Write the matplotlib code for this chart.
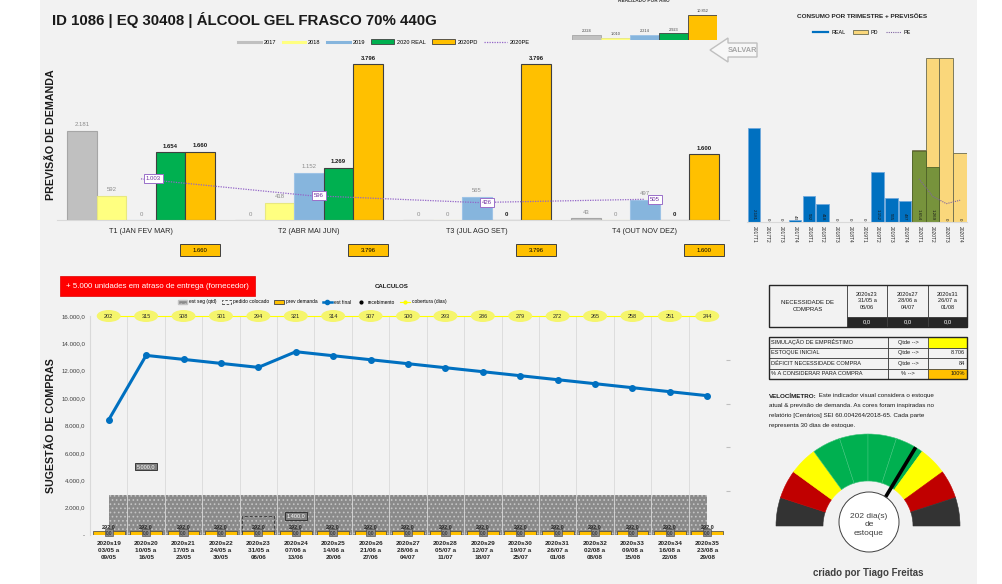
import matplotlib
matplotlib.use("Agg")
import matplotlib.pyplot as plt
from matplotlib.lines import Line2D
from matplotlib.patches import Circle, Ellipse, Patch, Polygon, Rectangle, Wedge
import numpy as np

W, H = 1003, 584
plt.rcParams["font.family"] = ["Liberation Sans Narrow", "Liberation Sans", "DejaVu Sans"]
plt.rcParams["hatch.linewidth"] = 0.7

# previsao de demanda por trimestre
quarters = ["T1 (JAN FEV MAR)", "T2 (ABR MAI JUN)", "T3 (JUL AGO SET)", "T4 (OUT NOV DEZ)"]
series_names = ["2017", "2018", "2019", "2020 REAL", "2020PD"]
dem_2017 = [2181, 0, 0, 43]
dem_2018 = [592, 418, 0, 0]
dem_2019 = [0, 1152, 565, 497]
real_2020 = [1654, 1269, 0, 0]
pd_2020 = [1660, 3796, 3796, 1600]
pe_2020 = [1003, 596, 426, 505]

# realizado por ano
year_totals = [2224, 1010, 2214, 2923, 10852]

# consumo por trimestre + previsoes
quarter_codes = ["2017T1", "2017T2", "2017T3", "2017T4", "2018T1", "2018T2", "2018T3", "2018T4",
                 "2019T1", "2019T2", "2019T3", "2019T4", "2020T1", "2020T2", "2020T3", "2020T4"]
real_by_quarter = [2181, 0, 0, 43, 592, 418, 0, 0, 0, 1152, 565, 497, 1654, 1269, 0, 0]
pd_quarters_2020 = [1660, 3796, 3796, 1600]
pe_quarters_2020 = [1003, 596, 426, 505]

# sugestao de compras por semana
weeks = ["2020s19\n03/05 a\n09/05", "2020s20\n10/05 a\n16/05", "2020s21\n17/05 a\n23/05",
         "2020s22\n24/05 a\n30/05", "2020s23\n31/05 a\n06/06", "2020s24\n07/06 a\n13/06",
         "2020s25\n14/06 a\n20/06", "2020s26\n21/06 a\n27/06", "2020s27\n28/06 a\n04/07",
         "2020s28\n05/07 a\n11/07", "2020s29\n12/07 a\n18/07", "2020s30\n19/07 a\n25/07",
         "2020s31\n26/07 a\n01/08", "2020s32\n02/08 a\n08/08", "2020s33\n09/08 a\n15/08",
         "2020s34\n16/08 a\n22/08", "2020s35\n23/08 a\n29/08"]
est_final = [8414, 13122, 12830, 12538, 12246, 13390, 13098, 12806, 12514, 12222,
             11930, 11638, 11346, 11054, 10762, 10470, 10178]
est_seg = [2920, 2920, 2920, 2920, 2920, 2920, 2920, 2920, 2920, 2920, 2920, 2920, 2920, 2920, 2920, 2920, 2920]
prev_demanda = [292, 292, 292, 292, 292, 292, 292, 292, 292, 292, 292, 292, 292, 292, 292, 292, 292]
pedido = [0, 0, 0, 0, 1400, 0, 0, 0, 0, 0, 0, 0, 0, 0, 0, 0, 0]
recebimento = [0, 5000, 0, 0, 0, 1400, 0, 0, 0, 0, 0, 0, 0, 0, 0, 0, 0]
cobertura = [202, 315, 308, 301, 294, 321, 314, 307, 300, 293, 286, 279, 272, 265, 258, 251, 244]

# tabelas
table_weeks = ["2020s23\n31/05 a\n06/06", "2020s27\n28/06 a\n04/07", "2020s31\n26/07 a\n01/08"]
necessidade = [0.0, 0.0, 0.0]
sim_labels = ["SIMULAÇÃO DE EMPRÉSTIMO", "ESTOQUE INICIAL", "DÉFICIT NECESSIDADE COMPRA", "% A CONSIDERAR PARA COMPRA"]
sim_units = ["Qtde -->", "Qtde -->", "Qtde -->", "% -->"]
sim_values = ["", "8.706", "84", "100%"]
dias_estoque = 202
dias_max = 300


def thousands(v):
    return f"{v:,}".replace(",", ".")


def br(v):
    return f"{v:,.1f}".replace(",", "X").replace(".", ",").replace("X", ".")


fig = plt.figure(figsize=(W / 100, H / 100), dpi=100)


def axes_px(x0, y0, x1, y1):
    return fig.add_axes([x0 / W, 1 - y1 / H, (x1 - x0) / W, (y1 - y0) / H])


# gray panel
fig.add_artist(Rectangle((40 / W, 0), (977 - 40) / W, 1, transform=fig.transFigure,
                         fc="#f2f2f2", ec="none", zorder=-5))

# ---------------- top chart: previsao de demanda ----------------
ax1 = axes_px(57, 56, 729, 220)
ax1.patch.set_alpha(0)
w = 0.1756
x = np.arange(len(quarters))
top_series = [dem_2017, dem_2018, dem_2019, real_2020, pd_2020]
top_colors = ["#c0c0c0", "#ffff80", "#86b5dd", "#00b050", "#ffc000"]
top_edges = ["#a6a6a6", "#e8e880", "#9dc3e6", "#404040", "#404040"]
for j, vals in enumerate(top_series):
    xs = x + (j - 2) * w
    ax1.bar(xs, vals, w, color=top_colors[j], edgecolor=top_edges[j], linewidth=0.8)
    bold = j >= 3
    for xi, v in zip(xs, vals):
        ax1.annotate(thousands(v), (xi, v), xytext=(0, 2.5), textcoords="offset points",
                     ha="center", va="bottom", fontsize=4.3,
                     color="#1a1a1a" if bold else "#8c8c8c",
                     fontweight="bold" if bold else "normal")

ax1.plot(x, pe_2020, ls=(0, (1, 1)), color="#9365c8", lw=0.9, zorder=4)
for xi, v in zip(x, pe_2020):
    ax1.annotate(thousands(v), (xi, v), xytext=(3.5, 0), textcoords="offset points",
                 ha="left", va="center", fontsize=4.3, color="#7030a0", zorder=5,
                 bbox=dict(boxstyle="square,pad=0.35", fc="white", ec="#9a6fc9", lw=0.7))

ky = 4000 / 164
for xi, v in zip(x + 2 * w, pd_2020):
    ax1.add_patch(Rectangle((xi - 20 / 168, -(256 - 220) * ky), 40 / 168, 12 * ky,
                            fc="#ffc000", ec="#404040", lw=0.7, clip_on=False))
    ax1.text(xi, -(250 - 220) * ky, thousands(v), ha="center", va="center", fontsize=4.3,
             clip_on=False)

ax1.set_xlim(-0.5, 3.5)
ax1.set_ylim(0, 4000)
ax1.set_xticks(x, quarters, fontsize=5.2, color="#262626")
ax1.set_yticks([])
ax1.tick_params(axis="x", length=0, pad=6)
for s in ["top", "right", "left"]:
    ax1.spines[s].set_visible(False)
ax1.spines["bottom"].set_color("#d9d9d9")

top_handles = [Line2D([], [], color=top_colors[0], lw=2.2),
               Line2D([], [], color=top_colors[1], lw=2.2),
               Line2D([], [], color=top_colors[2], lw=2.2),
               Patch(fc=top_colors[3], ec="#404040", lw=0.6),
               Patch(fc=top_colors[4], ec="#404040", lw=0.6),
               Line2D([], [], color="#9365c8", lw=0.9, ls=(0, (1, 1)))]
fig.legend(top_handles, series_names + ["2020PE"], loc="center", ncol=6,
           bbox_to_anchor=(384 / W, 1 - 42 / H), fontsize=4.1, frameon=False,
           handlelength=4, handleheight=0.9, columnspacing=1.1, handletextpad=0.5)

# ---------------- mini chart: realizado por ano ----------------
axm = axes_px(572, 10, 717, 40)
axm.bar(np.arange(5), year_totals, 1.0, color=top_colors, edgecolor=top_edges, lw=0.6)
for i, v in enumerate(year_totals):
    axm.text(i, v + 700, thousands(v), ha="center", va="bottom", fontsize=2.8, color="#404040")
axm.set_xlim(-0.5, 4.5)
axm.set_ylim(0, 13000)
axm.axis("off")

# ---------------- right chart: consumo por trimestre ----------------
axr = axes_px(747, 56, 967, 222)
axr.patch.set_alpha(0)
xr = np.arange(len(quarter_codes))
axr.bar(xr[:12], real_by_quarter[:12], 0.9, color="#0070c0", edgecolor="#6fa8dc", lw=0.6)
axr.bar(xr[12:], pd_quarters_2020, 1.0, color="#fad77b", edgecolor="#6b6b4f", lw=0.6)
axr.bar(xr[12:], real_by_quarter[12:], 1.0, color="#77933c", edgecolor="#4f6228", lw=0.6)
axr.plot(xr[12:], pe_quarters_2020, ls=(0, (1, 1)), color="#8064a2", lw=0.8)
for xi, v in zip(xr, real_by_quarter):
    axr.text(xi, 40, thousands(v), rotation=270, ha="center", va="bottom", fontsize=3.2,
             color="#1a1a1a")
axr.set_xlim(-0.5, 15.5)
axr.set_ylim(0, 3851)
axr.set_xticks(xr, quarter_codes, rotation=270, fontsize=3.5, color="#262626")
axr.set_yticks([])
axr.tick_params(axis="x", length=0, pad=3)
for s in ["top", "right", "left"]:
    axr.spines[s].set_visible(False)
axr.spines["bottom"].set_color("#d9d9d9")

# ---------------- bottom chart: sugestao de compras ----------------
axb = axes_px(90, 316, 726, 535)
axb.patch.set_alpha(0)
xb = np.arange(len(weeks))
axb.fill_between(xb, 0, est_seg, facecolor="#8a8a8a", edgecolor="#c4c4c4", hatch="....",
                 lw=0, zorder=1)
axb.bar(xb, prev_demanda, 0.85, color="#ffc000", edgecolor="#404040", lw=0.5, zorder=2)
idx = [k for k, v in enumerate(pedido) if v]
axb.bar([xb[k] for k in idx], [pedido[k] for k in idx], 0.85, fill=False, edgecolor="#404040",
        ls=(0, (3, 2)), lw=0.7, zorder=3)
axb.plot(xb, est_final, color="#0070c0", lw=2.2, marker="o", ms=4, zorder=5)
for k, v in enumerate(recebimento):
    if v:
        axb.text(xb[k], v, br(v), ha="center", va="center", fontsize=4, color="white", zorder=6,
                 bbox=dict(boxstyle="square,pad=0.25", fc="#7f7f7f", ec="#262626", lw=0.6))
for k, v in enumerate(prev_demanda):
    axb.annotate(br(v), (xb[k], v), xytext=(0, 1), textcoords="offset points", ha="center",
                 va="bottom", fontsize=4, fontweight="bold", color="#262626", zorder=6)
    axb.annotate("0,0", (xb[k], 0), xytext=(0, 1.5), textcoords="offset points",
                 ha="center", va="center", fontsize=3.4, color="#1a1a1a", zorder=6,
                 bbox=dict(boxstyle="square,pad=0.2", fc="#8c8c8c", ec="#404040", lw=0.4))

# cobertura em dias (bolhas no topo)
axb.plot(xb, [16000] * len(xb), color="#ffff00", lw=0.8, zorder=6, clip_on=False)
for k, v in enumerate(cobertura):
    axb.add_patch(Ellipse((xb[k], 16000), 0.64, 12 / 0.01369, fc="#f5f56c", ec="none",
                          zorder=7, clip_on=False))
    axb.text(xb[k], 16000, str(v), ha="center", va="center", fontsize=4, color="#262626",
             zorder=8, clip_on=False)

axb.set_xlim(-0.5, 16.5)
axb.set_ylim(0, 16000)
yt = np.arange(0, 16001, 2000)
axb.set_yticks(yt, ["-"] + [br(v) for v in yt[1:]], fontsize=4.4, color="#404040")
axb.set_xticks(xb, weeks, fontsize=4.6, fontweight="bold", color="#262626", linespacing=1.5)
axb.set_xticks(np.arange(-0.5, 16.6, 1), minor=True)
axb.grid(which="minor", axis="x", color="#d9d9d9", lw=0.6)
axb.tick_params(axis="both", which="both", length=0)
axb.tick_params(axis="x", pad=4)
for s in ["top", "right", "bottom"]:
    axb.spines[s].set_visible(False)
axb.spines["left"].set_color("#d9d9d9")
axt = axb.twinx()
axt.set_ylim(0, 5)
axt.set_yticks([1, 2, 3, 4], [])
axt.tick_params(axis="y", length=3, color="#bfbfbf")
for s in axt.spines.values():
    s.set_visible(False)

bot_handles = [Patch(fc="#8a8a8a", ec="#c4c4c4", hatch="...."),
               Patch(fill=False, ec="#404040", ls=(0, (3, 2)), lw=0.6),
               Patch(fc="#ffc000", ec="#404040", lw=0.6),
               Line2D([], [], color="#0070c0", lw=1.8, marker="o", ms=3),
               Line2D([], [], color="black", lw=0, marker="o", ms=2),
               Line2D([], [], color="#ffff00", lw=0.8, marker="o", ms=2)]
fig.legend(bot_handles, ["est seg (qtd)", "pedido colocado", "prev demanda", "est final",
                         "recebimento", "cobertura (dias)"],
           loc="center", ncol=6, bbox_to_anchor=(312 / W, 1 - 302 / H), fontsize=3.5,
           frameon=False, handlelength=2.0, handleheight=0.8, columnspacing=1.0,
           handletextpad=0.4)

# ---------------- overlay: text, tables, gauge ----------------
ov = fig.add_axes([0, 0, 1, 1], zorder=10)
ov.set_xlim(0, W)
ov.set_ylim(H, 0)
ov.axis("off")

ov.text(52, 20, "ID 1086 | EQ 30408 | ÁLCOOL GEL FRASCO 70% 440G", ha="left", va="center",
        fontsize=10.8, fontweight="bold", color="#1a1a1a")
ov.text(51, 135, "PREVISÃO DE DEMANDA", rotation=90, ha="center", va="center", fontsize=7.7,
        fontweight="bold", color="#1a1a1a")
ov.text(51, 426, "SUGESTÃO DE COMPRAS", rotation=90, ha="center", va="center", fontsize=7.7,
        fontweight="bold", color="#1a1a1a")

ov.text(644, 1, "REALIZADO POR ANO", ha="center", va="center", fontsize=3.4,
        fontweight="bold", color="#404040")
ov.add_patch(Polygon([(710, 50), (728, 38), (728, 43), (757, 43), (757, 57), (728, 57), (728, 62)],
                     closed=True, fc="#f7f7f7", ec="#bfbfbf", lw=1))
ov.text(742, 50, "SALVAR", ha="center", va="center", fontsize=5.3, fontweight="bold",
        color="#a6a6a6")

ov.text(862, 16, "CONSUMO POR TRIMESTRE + PREVISÕES", ha="center", va="center", fontsize=4.6,
        fontweight="bold", color="#262626")
r_handles = [Line2D([], [], color="#0070c0", lw=1.6),
             Patch(fc="#fad77b", ec="#6b6b4f", lw=0.6),
             Line2D([], [], color="#8064a2", lw=0.8, ls=(0, (1, 1)))]
fig.legend(r_handles, ["REAL", "PD", "PE"], loc="center", ncol=3,
           bbox_to_anchor=(862 / W, 1 - 32 / H), fontsize=3.9, frameon=False,
           handlelength=2.8, handleheight=0.8, columnspacing=1.4, handletextpad=0.5)

ov.add_patch(Rectangle((60, 276), 195, 20, fc="#ff0000", ec="#e00000", lw=0.5))
ov.text(157.5, 286, "+ 5.000 unidades em atraso de entrega (fornecedor)", ha="center",
        va="center", fontsize=5.7, color="white")
ov.text(375, 286, "CALCULOS", ha="left", va="center", fontsize=4.4, fontweight="bold",
        color="#1a1a1a")


def cell(x0, y0, x1, y1, text="", fc="none", tc="#1a1a1a", fs=4.2, ha="center", bold=False,
         lw=0.5):
    ov.add_patch(Rectangle((x0, y0), x1 - x0, y1 - y0, fc=fc, ec="#404040", lw=lw))
    if text:
        tx = {"center": (x0 + x1) / 2, "left": x0 + 2, "right": x1 - 2}[ha]
        ov.text(tx, (y0 + y1) / 2, text, ha=ha, va="center", fontsize=fs, color=tc,
                fontweight="bold" if bold else "normal", linespacing=1.3)


# tabela de necessidade de compras
cols = [847, 887, 928, 967]
cell(769, 285, 847, 327, "NECESSIDADE DE\nCOMPRAS", fs=4.3)
for c in range(3):
    cell(cols[c], 285, cols[c + 1], 317, table_weeks[c], fs=4.1)
    cell(cols[c], 317, cols[c + 1], 327, br(necessidade[c]), fc="#262626", tc="white", fs=4.2)
ov.add_patch(Rectangle((769, 285), 967 - 769, 42, fc="none", ec="#262626", lw=1))

# tabela de simulacao
rows = [337, 347.5, 358, 368.5, 379]
sim_fc = ["#ffff00", "none", "none", "#ffc000"]
for r in range(4):
    cell(769, rows[r], 888, rows[r + 1], sim_labels[r], ha="left", fs=4.1)
    cell(888, rows[r], 928, rows[r + 1], sim_units[r], fs=4.1)
    cell(928, rows[r], 967, rows[r + 1], sim_values[r], fc=sim_fc[r], ha="right", fs=4.1)
ov.add_patch(Rectangle((769, 337), 967 - 769, 42, fc="none", ec="#262626", lw=1))

# texto do velocimetro
t_bold = ov.text(769, 396, "VELOCÍMETRO:", ha="left", va="center", fontsize=4.5,
                 fontweight="bold", color="#1a1a1a")
ov.annotate(" Este indicador visual considera o estoque", xy=(1, 0.5), xycoords=t_bold,
            ha="left", va="center", fontsize=4.5, color="#1a1a1a")
vel_lines = ["atual & previsão de demanda. As cores foram inspiradas no",
             "relatório [Cenários] SEI 60.004264/2018-65. Cada parte",
             "representa 30 dias de estoque."]
for i, line in enumerate(vel_lines):
    ov.text(769, 406 + 9.7 * i, line, ha="left", va="center", fontsize=4.5, color="#1a1a1a")

# velocimetro
cx, cy, r_out, r_in = 868, 526, 92, 45
seg_colors = ["#333333", "#c00000", "#ffff00", "#00b050", "#00b050", "#00b050", "#00b050",
              "#ffff00", "#c00000", "#333333"]
step = 180 / len(seg_colors)
for i, col in enumerate(seg_colors):
    a1 = 180 - (i + 1) * step
    a2 = 180 - i * step
    ec = "#3cc47a" if col == "#00b050" else col
    ov.add_patch(Wedge((cx, cy), r_out, -a2, -a1, width=r_out - r_in, fc=col, ec=ec, lw=0.4,
                       zorder=1))
ang = np.radians(180 * (1 - dias_estoque / dias_max))
ov.plot([cx, cx + r_out * np.cos(ang)], [cy, cy - r_out * np.sin(ang)], color="black", lw=2.6,
        solid_capstyle="butt", zorder=2)
ov.add_patch(Circle((869, 522), 30, fc="white", ec="#404040", lw=0.7, zorder=3))
ov.text(869, 525, f"{dias_estoque} dia(s)\nde\nestoque", ha="center", va="center", fontsize=6,
        color="#404040", linespacing=1.35, family=["Liberation Sans", "DejaVu Sans"], zorder=4)
ov.text(868, 573, "criado por Tiago Freitas", ha="center", va="center", fontsize=7,
        fontweight="bold", color="#404040", family=["Liberation Sans", "DejaVu Sans"])

fig.savefig("out.png", dpi=100)
